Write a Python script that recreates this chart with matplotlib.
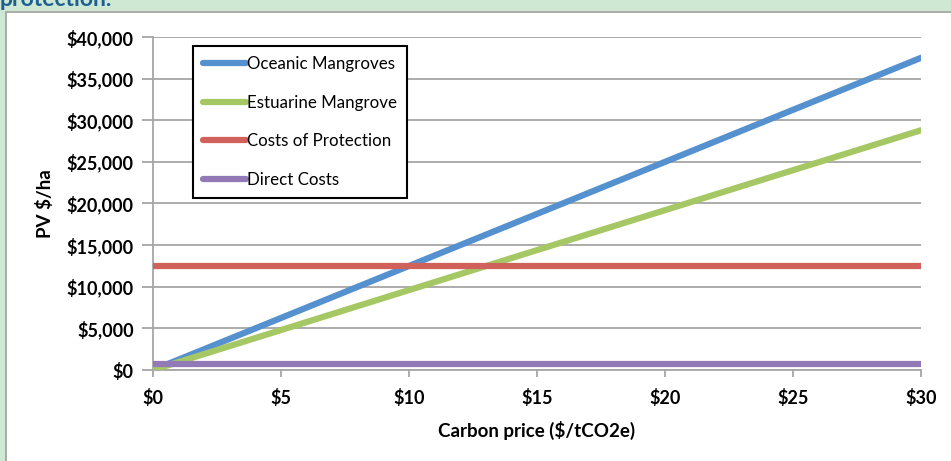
import matplotlib
matplotlib.use("Agg")
import matplotlib.pyplot as plt
from matplotlib.patches import Rectangle

# carbon price points ($/tCO2e)
carbon_price = [0, 5, 10, 15, 20, 25, 30]
oceanic = [0, 6250, 12500, 18750, 25000, 31250, 37500]
estuarine = [0, 4800, 9600, 14400, 19200, 24000, 28800]
protection = [12500, 12500, 12500, 12500, 12500, 12500, 12500]
direct = [700, 700, 700, 700, 700, 700, 700]

series_names = ["Oceanic Mangroves", "Estuarine Mangrove", "Costs of Protection", "Direct Costs"]
series_colors = ["#5590cf", "#a6c864", "#d0615b", "#917ab5"]

x_ticks = [0, 5, 10, 15, 20, 25, 30]
y_ticks = [0, 5000, 10000, 15000, 20000, 25000, 30000, 35000, 40000]

plt.rcParams['font.family'] = ['Lato', 'DejaVu Sans']

fig = plt.figure(figsize=(9.51, 4.61), dpi=100, facecolor="#cfe8d3")

# white panel behind the chart
panel = Rectangle((6 / 951, -0.05), 1.0, 1 - 12 / 461 + 0.05, transform=fig.transFigure,
                  facecolor="white", edgecolor="#a0a0a0", linewidth=1.2, zorder=-10)
fig.patches.append(panel)

fig.text(0.0, 1 - 6 / 461, "protection.", color="#1d5f94", fontsize=16.5, fontweight="bold",
         ha="left", va="baseline")

ax = fig.add_axes([153 / 951, 1 - 370 / 461, (921 - 153) / 951, (370 - 37) / 461])
ax.set_facecolor("none")

for vals, name, col in zip([oceanic, estuarine, protection, direct], series_names, series_colors):
    ax.plot(carbon_price, vals, color=col, linewidth=4.5, label=name, solid_capstyle="round", zorder=3)

ax.set_xlim(0, 30)
ax.set_ylim(0, 40000)
ax.set_xticks(x_ticks)
ax.set_xticklabels(["$%d" % v for v in x_ticks])
ax.set_yticks(y_ticks)
ax.set_yticklabels(["${:,}".format(v) for v in y_ticks])
ax.yaxis.grid(True, color="#a6a6a6", linewidth=1.3)
ax.set_axisbelow(True)

for s in ["top", "right"]:
    ax.spines[s].set_visible(False)
for s in ["left", "bottom"]:
    ax.spines[s].set_color("#a6a6a6")
    ax.spines[s].set_linewidth(1.3)

ax.tick_params(axis="both", colors="#a6a6a6", labelcolor="black", width=1.3, labelsize=13)
for lab in ax.get_xticklabels() + ax.get_yticklabels():
    lab.set_fontweight("bold")
ax.tick_params(axis="x", length=5, pad=9)
ax.tick_params(axis="y", length=8, pad=6)

ax.set_xlabel("Carbon price ($/tCO2e)", fontsize=13.5, fontweight="bold", labelpad=10)
ax.set_ylabel("PV $/ha", fontsize=13.5, fontweight="bold", labelpad=9)

leg = ax.legend(loc="upper left", bbox_to_anchor=((193 - 153) / 768, (370 - 46) / 333),
                borderaxespad=0, fontsize=12.2, handlelength=2.5, handletextpad=0.1,
                labelspacing=1.33, fancybox=False, edgecolor="black", framealpha=1,
                borderpad=0.6)
leg.get_frame().set_linewidth(1.5)

fig.savefig("out.png", dpi=100, facecolor=fig.get_facecolor())
